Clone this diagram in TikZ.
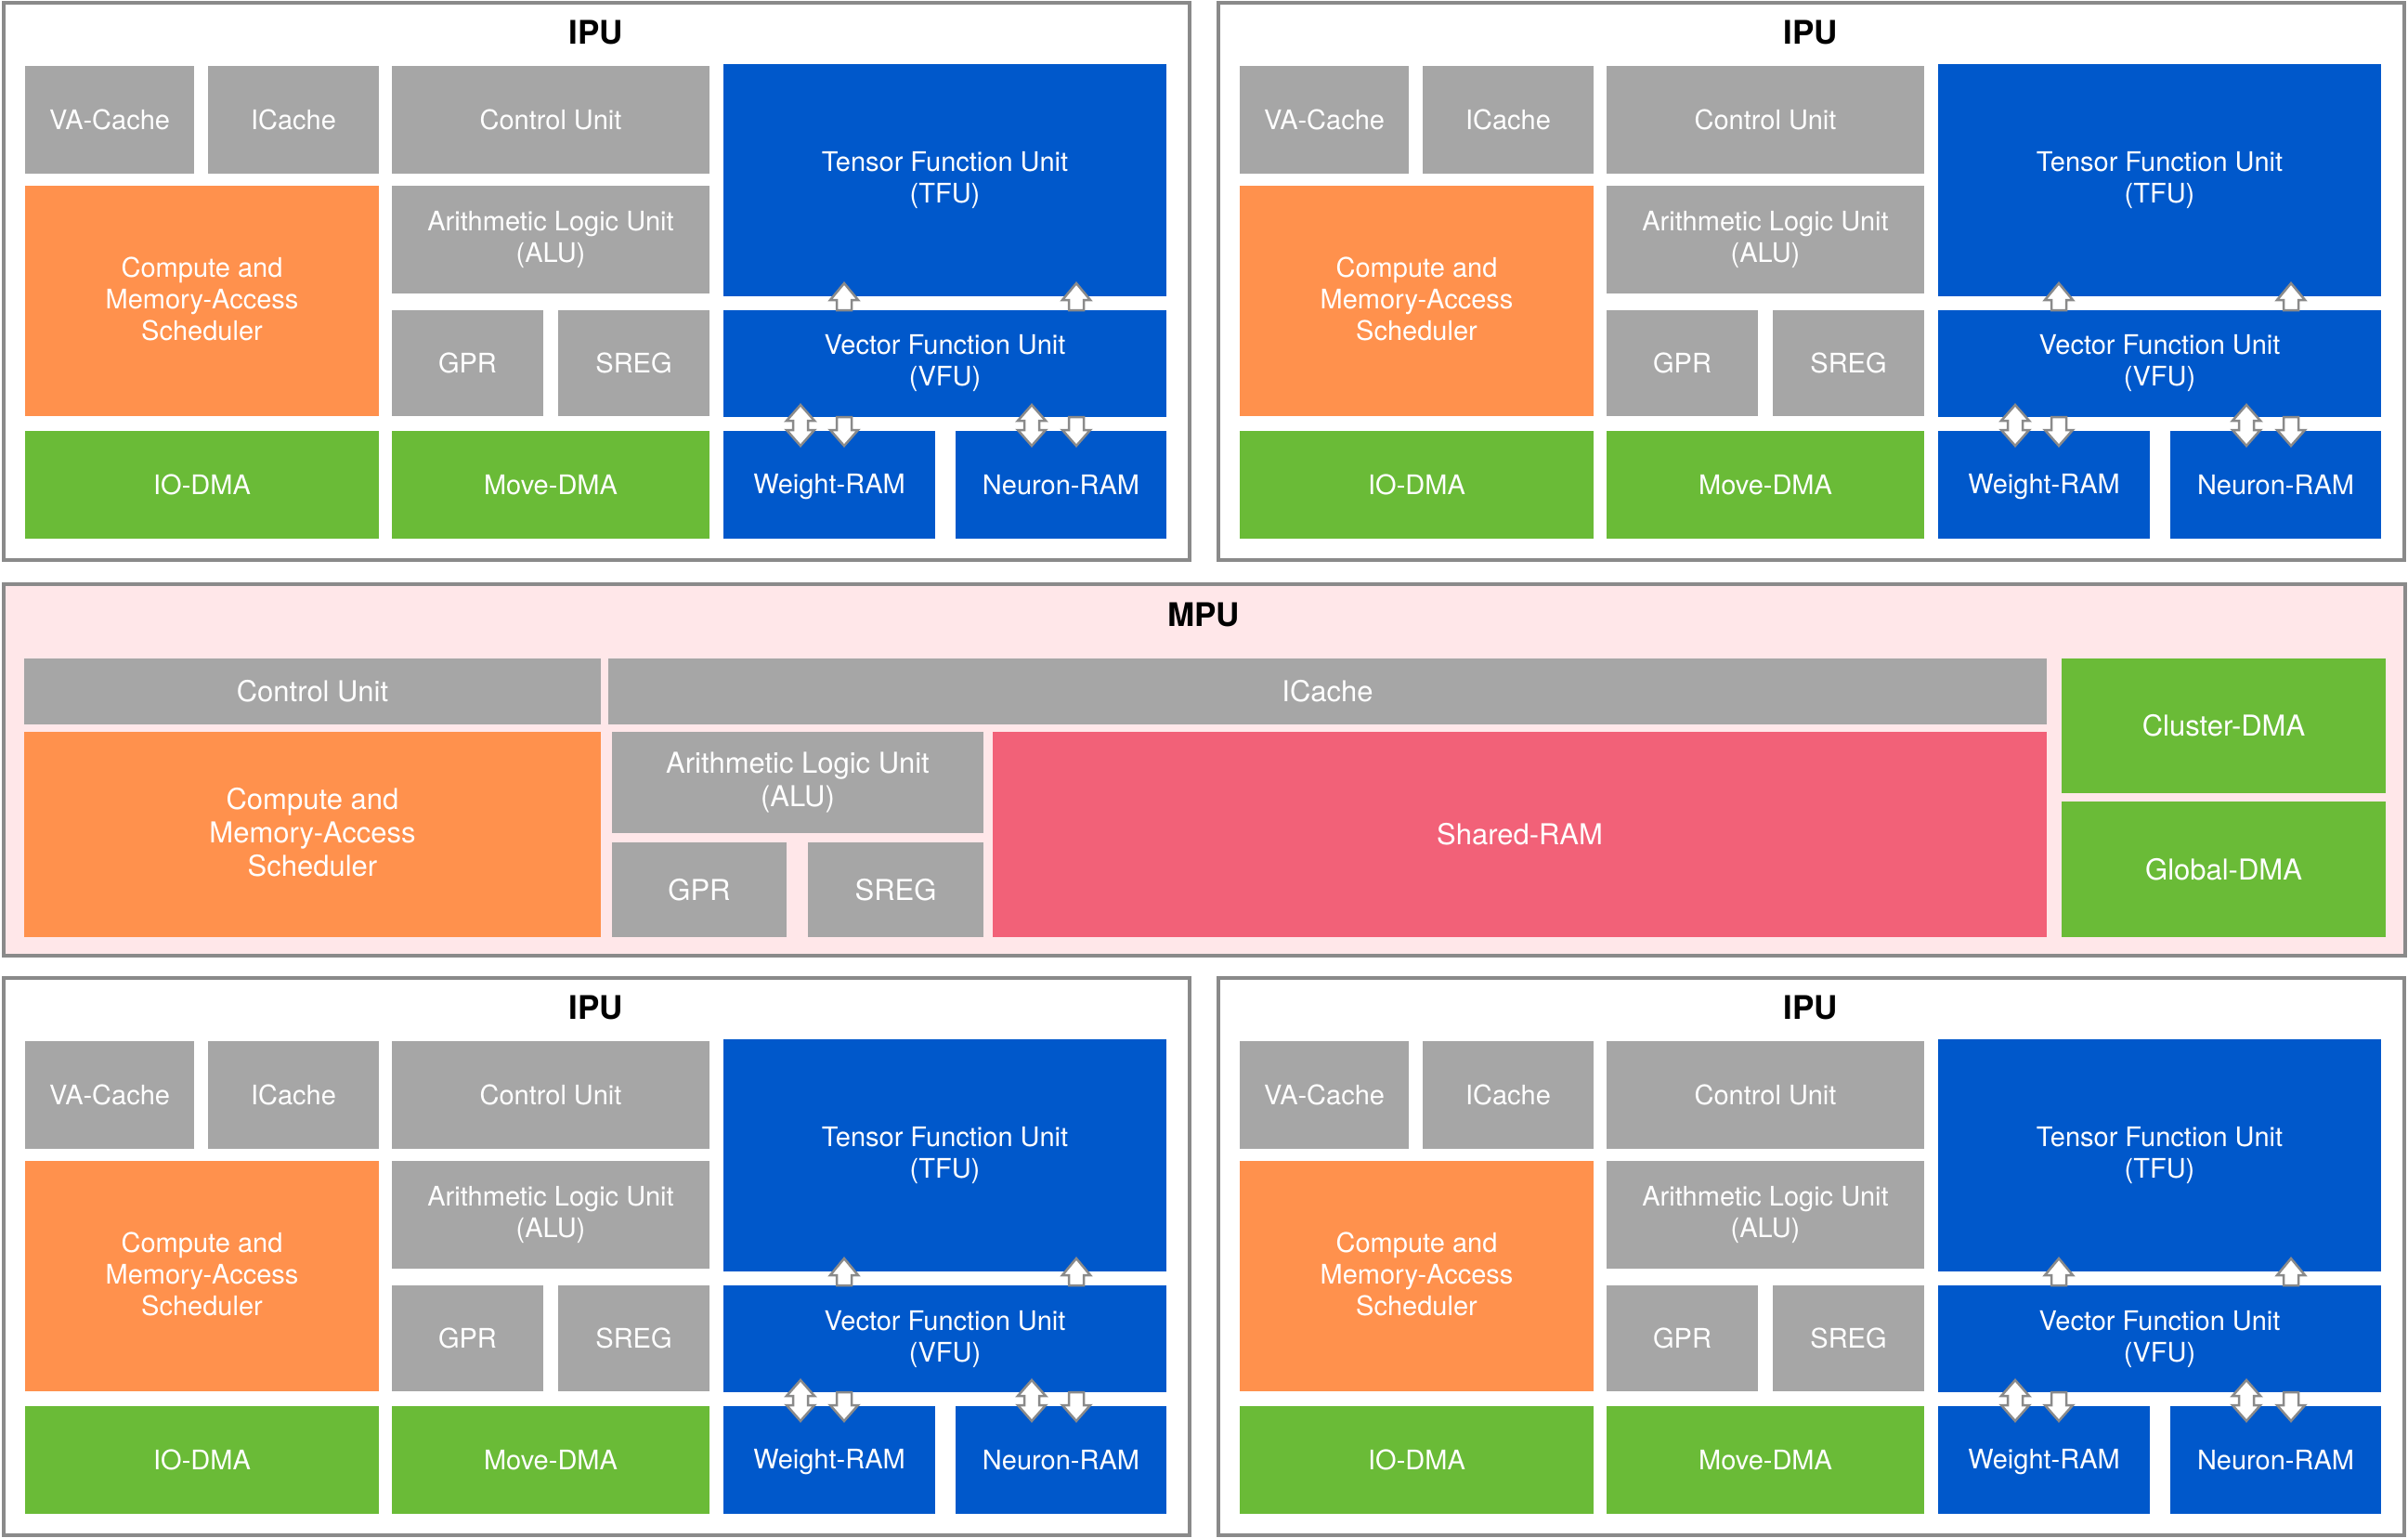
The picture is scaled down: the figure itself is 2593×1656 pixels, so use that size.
\documentclass[tikz,border=0pt]{standalone}
\usepackage{fontspec}
\setmainfont{TeX Gyre Heros}
\usetikzlibrary{calc}
\definecolor{cgray}{HTML}{A6A6A6}
\definecolor{corange}{HTML}{FF914D}
\definecolor{cblue}{HTML}{0058CB}
\definecolor{cgreen}{HTML}{6ABB37}
\definecolor{cpink}{HTML}{F26178}
\definecolor{cmpu}{HTML}{FFE7E9}
\definecolor{cborder}{HTML}{8A8A8A}
\newcommand\capstrut{\rule[-0.15em]{0pt}{1.02em}}
\newcommand\blk[7]{\node[#6, minimum width={(#4)-(#2)}, minimum height={(#5)-(#3)}] (#1) at ({((#2)+(#4))/2},{((#3)+(#5))/2}) {#7};}
\tikzset{
  unit/.style={rectangle, inner sep=0pt, outer sep=0pt, text=white, align=center, font=\fontsize{29}{34}\selectfont,
    execute at begin node=\capstrut, execute at end node=\capstrut},
  munit/.style={unit, font=\fontsize{31}{36}\selectfont},
  gbox/.style={unit, fill=cgray}, obox/.style={unit, fill=corange},
  bbox/.style={unit, fill=cblue}, grbox/.style={unit, fill=cgreen},
  mgbox/.style={munit, fill=cgray}, mobox/.style={munit, fill=corange},
  mgrbox/.style={munit, fill=cgreen}, mpbox/.style={munit, fill=cpink},
  frame/.style={rectangle, inner sep=0pt, outer sep=0pt, draw=cborder, line width=4pt},
  ttl/.style={inner sep=0pt, font=\fontsize{35}{40}\selectfont\bfseries, text=black},
  blockarrow/.style={draw=cborder, fill=white, line width=2.5pt, line join=miter},
}
\newcommand\uparrowat[2]{%
  \draw[blockarrow] ($(#1.north west)+(#2-8,0)$) -- ++(0,-11) -- ++(-7,0) -- ++(15,-18) -- ++(15,18) -- ++(-7,0) -- ++(0,11) -- cycle;}
\newcommand\dnarrowat[2]{%
  \draw[blockarrow] ($(#1.south west)+(#2-8,0)$) -- ++(0,14) -- ++(-7,0) -- ++(15,17) -- ++(15,-17) -- ++(-7,0) -- ++(0,-14) -- cycle;}
\newcommand\dblarrowat[2]{%
  \draw[blockarrow] ($(#1.south west)+(#2,-13)$) -- ++(15,17) -- ++(-7,0) -- ++(0,10) -- ++(7,0) -- ++(-15,17) -- ++(-15,-17) -- ++(7,0) -- ++(0,-10) -- ++(-7,0) -- cycle;}
\newcommand\ipu[3]{%
\begin{scope}[shift={(#2,#3)}]
  \blk{#1-frame}{4}{3}{1281}{603}{frame, fill=white}{}
  \node[ttl] (#1-title) at (642,35) {IPU};
  \blk{#1-vac}{27}{71}{209}{187}{gbox}{VA-Cache}
  \blk{#1-ic}{224}{71}{408}{187}{gbox}{ICache}
  \blk{#1-cu}{422}{71}{764}{187}{gbox}{Control Unit}
  \blk{#1-tfu}{779}{69}{1256}{319}{bbox}{Tensor Function Unit\\(TFU)}
  \blk{#1-cms}{27}{200}{408}{448}{obox}{Compute and\\Memory-Access\\Scheduler}
  \blk{#1-alu}{422}{200}{764}{316}{gbox}{Arithmetic Logic Unit\\(ALU)}
  \blk{#1-gpr}{422}{334}{585}{448}{gbox}{GPR}
  \blk{#1-sreg}{601}{334}{764}{448}{gbox}{SREG}
  \blk{#1-vfu}{779}{334}{1256}{449}{bbox}{Vector Function Unit\\(VFU)}
  \blk{#1-io}{27}{464}{408}{580}{grbox}{IO-DMA}
  \blk{#1-mv}{422}{464}{764}{580}{grbox}{Move-DMA}
  \blk{#1-wr}{779}{464}{1007}{580}{bbox}{Weight-RAM}
  \blk{#1-nr}{1029}{464}{1256}{580}{bbox}{Neuron-RAM}
  \uparrowat{#1-vfu}{130}
  \uparrowat{#1-vfu}{380}
  \dblarrowat{#1-vfu}{83}
  \dnarrowat{#1-vfu}{130}
  \dblarrowat{#1-vfu}{332}
  \dnarrowat{#1-vfu}{380}
\end{scope}}
\begin{document}
\begin{tikzpicture}[x=1pt, y=-1pt]
\useasboundingbox (0,0) rectangle (2593,1656);
\fill[white] (0,0) rectangle (2593,1656);
\ipu{a}{0}{0}
\ipu{b}{1308}{0}
\ipu{c}{0}{1050}
\ipu{d}{1308}{1050}
% MPU
\blk{m-frame}{4}{629}{2590}{1029}{frame, fill=cmpu}{}
\node[ttl] (m-title) at (1296,662) {MPU};
\blk{m-cu}{26}{709}{647}{780}{mgbox}{Control Unit}
\blk{m-ic}{655}{709}{2204}{780}{mgbox}{ICache}
\blk{m-cdma}{2220}{709}{2569}{854}{mgrbox}{Cluster-DMA}
\blk{m-cms}{26}{788}{647}{1009}{mobox}{Compute and\\Memory-Access\\Scheduler}
\blk{m-alu}{659}{788}{1059}{897}{mgbox}{Arithmetic Logic Unit\\(ALU)}
\blk{m-gpr}{659}{907}{847}{1009}{mgbox}{GPR}
\blk{m-sreg}{870}{907}{1059}{1009}{mgbox}{SREG}
\blk{m-sram}{1069}{788}{2204}{1009}{mpbox}{Shared-RAM}
\blk{m-gdma}{2220}{863}{2569}{1009}{mgrbox}{Global-DMA}
\end{tikzpicture}
\end{document}
